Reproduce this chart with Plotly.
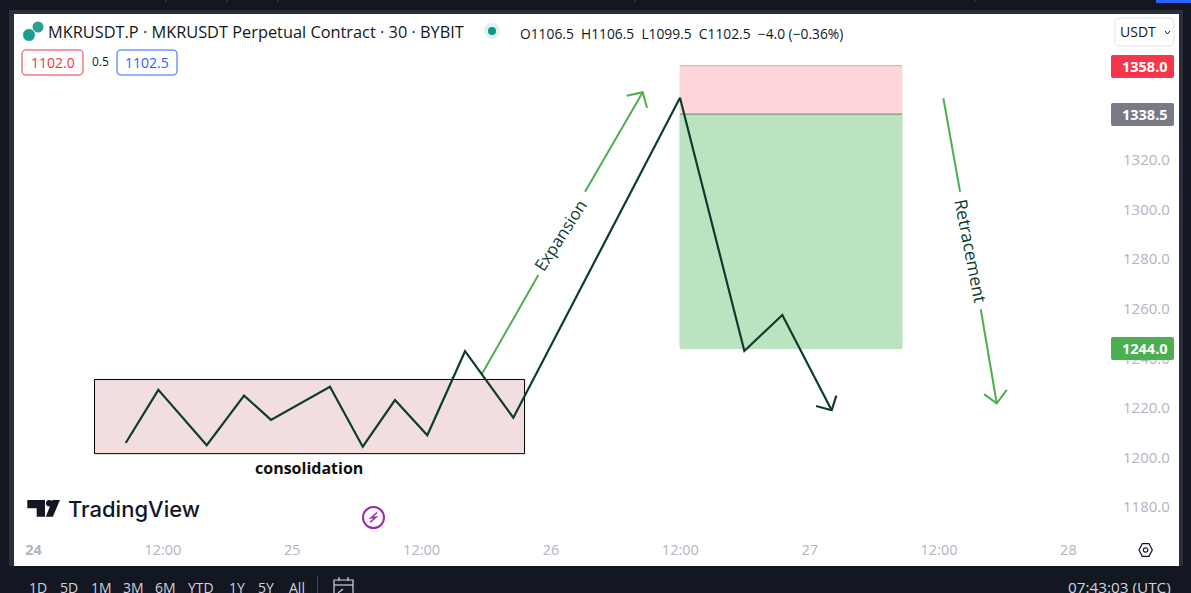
import plotly.graph_objects as go

# ---- data (x = hours after the "24" session open, y = price) ----
tick_hours = [0, 12, 24, 36, 48, 60, 72, 84, 96]
tick_text = ["<b>24</b>", "12:00", "25", "12:00", "26", "12:00", "27", "12:00", "28"]
price_ticks = [1180, 1200, 1220, 1240, 1260, 1280, 1300, 1320]

path_hours = [8.55, 11.58, 16.07, 19.53, 22.03, 27.5, 30.54, 33.53, 36.53, 40.03, 44.51, 59.97, 65.94, 69.46, 74.04]
path_price = [1205.9, 1227.3, 1205.0, 1225.0, 1215.2, 1228.6, 1204.4, 1223.2, 1209.0, 1242.9, 1216.1, 1345.1, 1243.0, 1257.5, 1219.1]
path_head_hours = [72.59, 74.04, 74.47]
path_head_price = [1220.8, 1219.1, 1225.0]

exp_hours = [41.58, 46.83, None, 51.16, 56.51, None, 55.03, 56.51, 56.91]
exp_price = [1233.6, 1273.6, None, 1307.2, 1347.3, None, 1345.9, 1347.3, 1341.1]
ret_hours = [84.4, 85.95, None, 87.87, 89.35, None, 88.17, 89.35, 90.28]
ret_price = [1344.9, 1307.2, None, 1259.8, 1221.9, None, 1225.6, 1221.9, 1227.3]

cons_hours = [5.66, 45.55]
cons_price = [1201.6, 1231.5]
pos_hours = [59.97, 80.56]
stop_price, entry_price, target_price = 1358.0, 1338.5, 1244.0

title_text = "MKRUSDT.P · MKRUSDT Perpetual Contract · 30 · BYBIT"
ohlc_text = "O1106.5  H1106.5  L1099.5  C1102.5  −4.0 (−0.36%)"
range_buttons = ["1D", "5D", "1M", "3M", "6M", "YTD", "1Y", "5Y", "All"]
range_button_x = [38, 69, 101, 133, 165, 201, 237, 266, 297]

# ---- layout helpers ----
W, H = 1191, 593
L, R, T, B = 14, 1111, 14, 535
X_RANGE = [-1.81, 99.95]
Y_RANGE = [1168.79, 1378.87]
px = lambda x: (x - L) / (R - L)
py = lambda y: (B - y) / (B - T)

DARK = "#131722"
EDGE = "#2a2e39"
TREND = "#0b3d2e"
GREEN = "#4caf50"
FONT = "Open Sans"

shapes = []
annos = []

def rect(x0, y0, x1, y1, fill, line=None, layer="below", lw=1):
    shapes.append(dict(type="rect", xref="paper", yref="paper", x0=px(x0), x1=px(x1), y0=py(y0), y1=py(y1),
                       fillcolor=fill, line=dict(color=line or "rgba(0,0,0,0)", width=lw if line else 0), layer=layer))

def rrect(x0, y0, x1, y1, fill, line=None, r=4, lw=1):
    p = lambda a, b: f"{px(a):.5f},{py(b):.5f}"
    d = (f"M {p(x0 + r, y0)} L {p(x1 - r, y0)} Q {p(x1, y0)} {p(x1, y0 + r)} L {p(x1, y1 - r)} Q {p(x1, y1)} {p(x1 - r, y1)} "
         f"L {p(x0 + r, y1)} Q {p(x0, y1)} {p(x0, y1 - r)} L {p(x0, y0 + r)} Q {p(x0, y0)} {p(x0 + r, y0)} Z")
    shapes.append(dict(type="path", xref="paper", yref="paper", path=d, fillcolor=fill,
                       line=dict(color=line or "rgba(0,0,0,0)", width=lw if line else 0), layer="above"))

def svg(points, fill="rgba(0,0,0,0)", line=None, lw=1, close=True, layer="above"):
    d = "M " + " L ".join(f"{px(a):.5f},{py(b):.5f}" for a, b in points) + (" Z" if close else "")
    shapes.append(dict(type="path", xref="paper", yref="paper", path=d, fillcolor=fill,
                       line=dict(color=line or "rgba(0,0,0,0)", width=lw if line else 0), layer=layer))

def circle(cx, cy, r, fill="rgba(0,0,0,0)", line=None, lw=1):
    rect(cx - r, cy - r, cx + r, cy + r, fill, line, "above", lw)
    shapes[-1]["type"] = "circle"

def text(x, y, s, size=14, color=DARK, anchor="center", family=FONT, weight=None, **kw):
    f = dict(size=size, color=color, family=family)
    if weight:
        f["weight"] = weight
    annos.append(dict(xref="paper", yref="paper", x=px(x), y=py(y), text=s, showarrow=False, xanchor=anchor,
                      yanchor="middle", font=f, borderpad=0, **kw))

# ---- window chrome ----
rect(9, 10, 1183, 566, EDGE)
rect(14, 14, 1179, 566, "#ffffff")
rect(1156, 0, 1191, 3, "#2962ff")
for sx in [166, 227, 278, 635, 975]:
    svg([(sx, 0), (sx, 2)], line="#434651", close=False)

# ---- chart marks ----
fig = go.Figure()
data_rects = [
    (cons_hours, cons_price, "#f2dede", "#000000", 1),
    (pos_hours, [entry_price, stop_price], "#fdd5da", "#fdd5da", 1),
    (pos_hours, [target_price, entry_price], "#bce3bf", "#bce3bf", 1),
]
for xs, ys, fill, line, lw in data_rects:
    shapes.append(dict(type="rect", xref="x", yref="y", x0=xs[0], x1=xs[1], y0=ys[0], y1=ys[1],
                       fillcolor=fill, line=dict(color=line, width=lw), layer="below"))
shapes.append(dict(type="line", xref="x", yref="y", x0=pos_hours[0], x1=pos_hours[1], y0=entry_price, y1=entry_price,
                   line=dict(color="#787b86", width=1), layer="below"))
shapes.append(dict(type="line", xref="x", yref="y", x0=pos_hours[0], x1=pos_hours[1], y0=stop_price, y1=stop_price,
                   line=dict(color="#f7a1ab", width=1), layer="below"))

for xs, ys, color, lw in [
    (exp_hours, exp_price, GREEN, 2),
    (ret_hours, ret_price, GREEN, 2),
    (path_hours, path_price, TREND, 2.2),
    (path_head_hours, path_head_price, TREND, 2.2),
]:
    fig.add_trace(go.Scatter(x=xs, y=ys, mode="lines", line=dict(color=color, width=lw), hoverinfo="skip", showlegend=False))

annos.append(dict(x=48.93, y=1289.8, text="Expansion", textangle=-57, showarrow=False,
                  font=dict(size=16.8, color=TREND, family=FONT)))
annos.append(dict(x=87.0, y=1283.4, text="Retracement", textangle=79, showarrow=False,
                  font=dict(size=17.5, color=TREND, family=FONT)))
annos.append(dict(x=25.56, y=1195.8, text="<b>consolidation</b>", showarrow=False,
                  font=dict(size=16, color="#111111", family=FONT)))

# ---- price tags ----
for price, fill, top, bottom in [(stop_price, "#f7364c", 55, 78), (entry_price, "#787b86", 103, 126), (target_price, GREEN, 337, 360)]:
    rrect(1111, top, 1174, bottom, fill, r=2)
    text(1145, (top + bottom) / 2, f"<b>{price:.1f}</b>", size=14.5, color="#ffffff")

# ---- header ----
circle(38, 27, 5.5, "#2f9d8f")
circle(29, 35, 6.5, "#1aa093", "#ffffff", 1)
text(47, 32, title_text, size=16.35, anchor="left")
circle(492, 31, 8, "#e0f2ef")
circle(492, 31, 4, "#089981")
text(519, 33, ohlc_text, size=13.8, anchor="left")
rrect(22, 50, 83, 75, "#ffffff", "#f23645")
text(52.5, 62, "1102.0", size=14, color="#f23645")
text(100, 61.5, "0.5", size=12)
rrect(117, 50, 177, 75, "#ffffff", "#2962ff")
text(147, 62, "1102.5", size=14, color="#2962ff")
rrect(1115, 18, 1174, 46, "#ffffff", "#e0e3eb", r=5)
text(1138, 32, "USDT", size=14)
svg([(1165, 31), (1167.5, 34), (1170, 31)], line=DARK, close=False)

# ---- watermark and small icons ----
svg([(27.3, 500), (45, 500), (45, 516.7), (36.7, 516.7), (36.7, 508.3), (27.3, 508.3)], fill=DARK)
circle(49.3, 503.3, 3.3, DARK)
svg([(52.5, 500), (60, 500), (52.8, 516.7), (45.8, 516.7)], fill=DARK)
text(66.5, 508.5, "TradingView", size=22, anchor="left", family="Inter", color=DARK, weight=500)
circle(373.5, 517.5, 10.5, line="#9c27b0", lw=2)
svg([(377, 512.5), (371, 518), (376, 517), (370, 522.5)], line="#9c27b0", lw=1.5, close=False)
svg([(1139, 550), (1142.3, 543.7), (1149, 543.7), (1152.3, 550), (1149, 556.3), (1142.3, 556.3)], line="#131722", lw=1.2)
circle(1145.6, 550, 2.2, line="#131722", lw=1.2)

# ---- bottom bar ----
for label, lx in zip(range_buttons, range_button_x):
    text(lx, 587.5, label, size=14, color="#d1d4dc")
svg([(317.5, 576), (317.5, 593)], line="#434651", close=False)
svg([(334, 593), (334, 580), (353, 580), (353, 593)], line="#d1d4dc", lw=1.2, close=False)
svg([(334, 585), (353, 585)], line="#d1d4dc", lw=1.2, close=False)
svg([(339, 577), (339, 581)], line="#d1d4dc", lw=1.2, close=False)
svg([(348, 577), (348, 581)], line="#d1d4dc", lw=1.2, close=False)
svg([(338, 593), (343, 589)], line="#d1d4dc", lw=1.2, close=False)
text(1172, 587, "07:43:03 (UTC)", size=15.3, color="#d1d4dc", anchor="right")

fig.update_layout(
    width=W, height=H, autosize=False,
    margin=dict(l=L, r=W - R, t=T, b=H - B, pad=0),
    paper_bgcolor=DARK, plot_bgcolor="rgba(0,0,0,0)",
    showlegend=False, shapes=shapes, annotations=annos,
    font=dict(family=FONT, size=14, color="#b2b5be"),
    xaxis=dict(range=X_RANGE, tickmode="array", tickvals=tick_hours, ticktext=tick_text, showgrid=False, zeroline=False,
               showline=False, ticks="outside", ticklen=2, tickcolor="rgba(0,0,0,0)", tickfont=dict(size=14.5, color="#b2b5be", family=FONT), tickangle=0),
    yaxis=dict(range=Y_RANGE, side="right", tickmode="array", tickvals=price_ticks, ticktext=[f"{v:.1f}" for v in price_ticks], showgrid=False, zeroline=False,
               showline=False, ticks="outside", ticklen=8, tickcolor="rgba(0,0,0,0)", tickfont=dict(size=15, color="#b2b5be", family=FONT)),
)
fig.write_html("out.html", config=dict(displayModeBar=False),
               post_script="document.body.style.margin='0';document.body.style.background='#131722';document.body.style.overflow='hidden';")
